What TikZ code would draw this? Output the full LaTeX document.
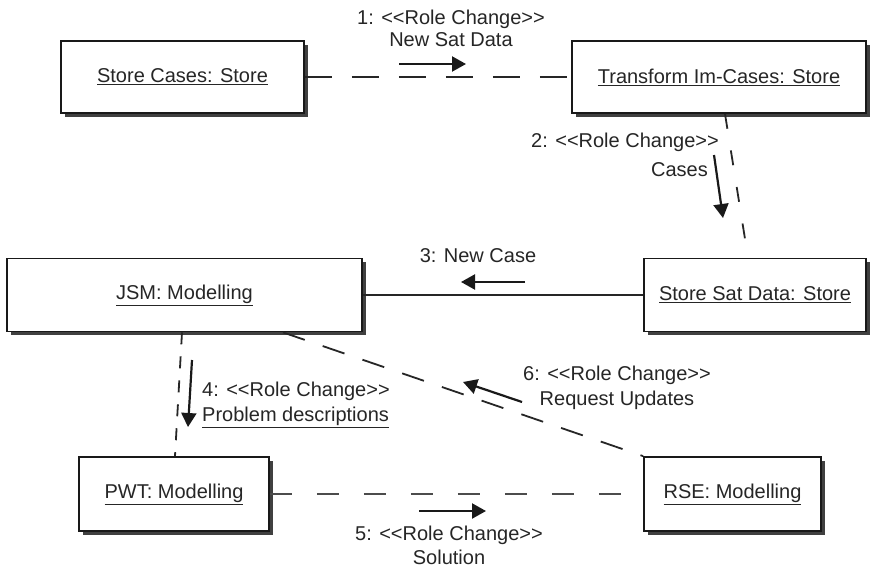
\documentclass[tikz,border=0pt]{standalone}
\usepackage{fontspec}
\setmainfont{Liberation Sans}
\usetikzlibrary{arrows.meta,shadows}
\newcommand\opn{<\kern0pt<}
\newcommand\cls{>\kern0pt>}
\begin{document}
\begin{tikzpicture}[x=1pt,y=-1pt,
  lab/.style={font=\fontsize{20}{22}\selectfont, text=black!85, inner sep=0pt},
  obj/.style={lab, draw=black!90, line width=1.8pt, fill=white,
    drop shadow={shadow xshift=3.5pt, shadow yshift=-3.5pt, fill=black!75, opacity=1}},
  link/.style={line width=1.8pt, black!85},
  msg/.style={line width=2.2pt, black!90, -{Triangle[length=14pt,width=15pt]}}]
\useasboundingbox[fill=white] (0,0) rectangle (871,571);
% objects
\node[obj, minimum width=243pt, minimum height=72pt] (sc) at (182.5,77) {\underline{Store Cases: Store}};
\node[obj, minimum width=294pt, minimum height=72pt] (ti) at (719,77) {\underline{Transform Im-Cases: Store}};
\node[obj, minimum width=355pt, minimum height=73pt] (jsm) at (184.5,295) {\underline{JSM: Modelling}\hspace{22pt}};
\node[obj, minimum width=222pt, minimum height=73pt] (ssd) at (755,295) {\underline{Store Sat Data: Store}};
\node[obj, minimum width=190pt, minimum height=74pt] (pwt) at (174,494) {\underline{PWT: Modelling}};
\node[obj, minimum width=177pt, minimum height=74pt] (rse) at (732.5,494) {\underline{RSE: Modelling}};
% links
\draw[link, dash pattern=on 27pt off 20pt] (sc.east) -- (ti.west);
\draw[link, dash pattern=on 15pt off 22pt] ([xshift=6pt]ti.south) -- ([xshift=-7pt]ssd.north);
\draw[line width=1.3pt, black!85] (ssd.west) -- (jsm.east);
\draw[link, dash pattern=on 12pt off 12pt] ([xshift=-2.5pt]jsm.south) -- ([xshift=1pt]pwt.north);
\draw[line width=1.5pt, black!70, dash pattern=on 22pt off 25pt] (pwt.east) -- (rse.west);
\draw[link, dash pattern=on 23pt off 19pt] ([xshift=98.5pt]jsm.south) -- (rse.north west);
% message arrows
\coordinate (a1s) at (399,64);  \coordinate (a1e) at (466,64);
\coordinate (a2s) at (714,155); \coordinate (a2e) at (723,218);
\coordinate (a3s) at (525,282); \coordinate (a3e) at (461,282);
\coordinate (a4s) at (192,360); \coordinate (a4e) at (188,427);
\coordinate (a5s) at (419,511); \coordinate (a5e) at (486,511);
\coordinate (a6s) at (522,402); \coordinate (a6e) at (463,382);
\draw[msg] (a1s) -- (a1e);
\draw[msg] (a2s) -- (a2e);
\draw[msg] (a3s) -- (a3e);
\draw[msg] (a4s) -- (a4e);
\draw[msg] (a5s) -- (a5e);
\draw[msg] (a6s) -- (a6e);
% labels
\node[lab, align=center] (l1) at (451,28) {1: \opn Role Change\cls\\New Sat Data};
\node[lab, anchor=east] (l2a) at (719,142) {2: \opn Role Change\cls};
\node[lab, anchor=east] (l2b) at (708,170) {Cases};
\node[lab] (l3) at (478,256) {3: New Case};
\node[lab, anchor=west, align=left, font=\fontsize{20}{25}\selectfont] (l4) at (202,404.5) {4: \opn Role Change\cls\\\underline{Problem descriptions}};
\node[lab, align=center, font=\fontsize{20}{24}\selectfont] (l5) at (449,545) {5: \opn Role Change\cls\\Solution};
\node[lab, align=center, font=\fontsize{20}{25}\selectfont] (l6) at (617,387.5) {6: \opn Role Change\cls\\Request Updates};
\end{tikzpicture}
\end{document}
